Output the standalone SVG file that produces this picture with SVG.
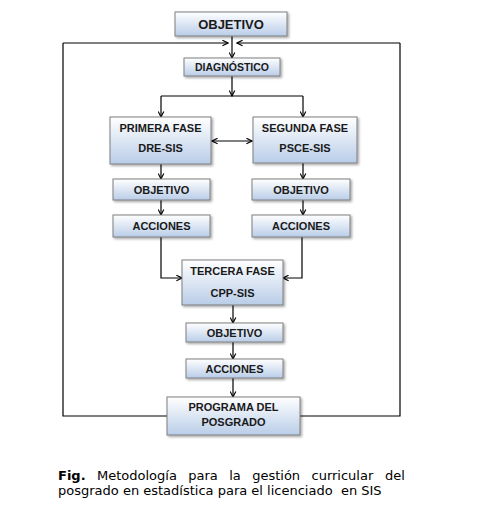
<svg xmlns="http://www.w3.org/2000/svg" width="481" height="531" viewBox="0 0 481 531">
<defs>
<linearGradient id="g" x1="0" y1="0" x2="0" y2="1">
<stop offset="0" stop-color="#ffffff"/>
<stop offset="1" stop-color="#b9cde8"/>
</linearGradient>
<filter id="sh" x="-10%" y="-10%" width="130%" height="140%">
<feDropShadow dx="1.5" dy="1.5" stdDeviation="0.8" flood-color="#000" flood-opacity="0.35"/>
</filter>
<marker id="a" viewBox="0 0 10 10" refX="9" refY="5" markerWidth="7" markerHeight="7" markerUnits="userSpaceOnUse" orient="auto-start-reverse">
<polyline points="1,1 9,5 1,9" fill="none" stroke="#000" stroke-width="1.6"/>
</marker>
</defs>
<style>
.b{fill:url(#g);stroke:#7f7f7f;stroke-width:1;filter:url(#sh)}
.t{font-family:"Liberation Sans",Arial,sans-serif;font-weight:bold;font-size:11px;fill:#1a1a1a;text-anchor:middle}
.c{fill:none;stroke:#000;stroke-width:1.2}
.ar{marker-end:url(#a)}
.cap{font-family:"DejaVu Sans",Verdana,sans-serif;font-size:13px;fill:#000}
</style>
<rect width="481" height="531" fill="#fff"/>
<g id="connectors">
<polyline class="c" points="63,43 63,416 167,416"/>
<polyline class="c" points="400,43 400,416 300,416"/>
<line class="c ar" x1="63" y1="43" x2="228" y2="43"/>
<line class="c ar" x1="400" y1="43" x2="237" y2="43"/>
<line class="c ar" x1="232" y1="36" x2="232" y2="58"/>
<line class="c ar" x1="232" y1="76" x2="232" y2="96"/>
<line class="c" x1="161" y1="96" x2="303" y2="96"/>
<line class="c ar" x1="161" y1="96" x2="161" y2="117"/>
<line class="c ar" x1="303" y1="96" x2="303" y2="117"/>
<line class="c ar" x1="212" y1="141" x2="252" y2="141" style="marker-start:url(#a)"/>
<line class="c ar" x1="161" y1="164" x2="161" y2="179"/>
<line class="c ar" x1="303" y1="163" x2="303" y2="179"/>
<line class="c ar" x1="161" y1="200" x2="161" y2="215"/>
<line class="c ar" x1="303" y1="200" x2="303" y2="215"/>
<polyline class="c ar" points="161,237 161,278 182,278"/>
<polyline class="c ar" points="302,237 302,278 283,278"/>
<line class="c ar" x1="233" y1="305" x2="233" y2="323"/>
<line class="c ar" x1="233" y1="342" x2="233" y2="359"/>
<line class="c ar" x1="233" y1="378" x2="233" y2="397"/>
</g>
<g id="n-objetivo-top">
<rect class="b" x="175" y="12" width="112" height="24"/>
<text class="t" x="231" y="28.5" style="font-size:13px">OBJETIVO</text>
</g>
<g id="n-diagnostico">
<rect class="b" x="184" y="58" width="96" height="18"/>
<text class="t" x="232" y="71" style="font-size:10.5px">DIAGNÓSTICO</text>
</g>
<g id="n-primera">
<rect class="b" x="110" y="117" width="101" height="47"/>
<text class="t" x="160.5" y="132">PRIMERA FASE</text>
<text class="t" x="160.5" y="152">DRE-SIS</text>
</g>
<g id="n-segunda">
<rect class="b" x="253" y="117" width="104" height="46"/>
<text class="t" x="305" y="132">SEGUNDA FASE</text>
<text class="t" x="305" y="152">PSCE-SIS</text>
</g>
<g id="n-obj-1">
<rect class="b" x="113" y="179" width="97" height="21"/>
<text class="t" x="161.5" y="193.5">OBJETIVO</text>
</g>
<g id="n-obj-2">
<rect class="b" x="252" y="179" width="98" height="21"/>
<text class="t" x="301" y="193.5">OBJETIVO</text>
</g>
<g id="n-acc-1">
<rect class="b" x="113" y="215" width="97" height="22"/>
<text class="t" x="161.5" y="229.5">ACCIONES</text>
</g>
<g id="n-acc-2">
<rect class="b" x="252" y="215" width="98" height="22"/>
<text class="t" x="301" y="229.5">ACCIONES</text>
</g>
<g id="n-tercera">
<rect class="b" x="182" y="260" width="101" height="45"/>
<text class="t" x="232.5" y="275">TERCERA FASE</text>
<text class="t" x="232.5" y="297">CPP-SIS</text>
</g>
<g id="n-obj-3">
<rect class="b" x="186" y="323" width="97" height="19"/>
<text class="t" x="234.5" y="336.5">OBJETIVO</text>
</g>
<g id="n-acc-3">
<rect class="b" x="186" y="359" width="97" height="19"/>
<text class="t" x="234.5" y="372.5">ACCIONES</text>
</g>
<g id="n-programa">
<rect class="b" x="167" y="397" width="133" height="38"/>
<text class="t" x="233.5" y="411">PROGRAMA DEL</text>
<text class="t" x="233.5" y="426">POSGRADO</text>
</g>
<g id="caption">
<text class="cap" y="480"><tspan x="58" font-weight="bold">Fig.</tspan><tspan x="97">Metodología</tspan><tspan x="188.3">para</tspan><tspan x="229.2">la</tspan><tspan x="252.2">gestión</tspan><tspan x="311.5">curricular</tspan><tspan x="384.9">del</tspan></text>
<text class="cap" y="495" x="58" xml:space="preserve">posgrado en estadística para el licenciado  en SIS</text>
</g>
</svg>
